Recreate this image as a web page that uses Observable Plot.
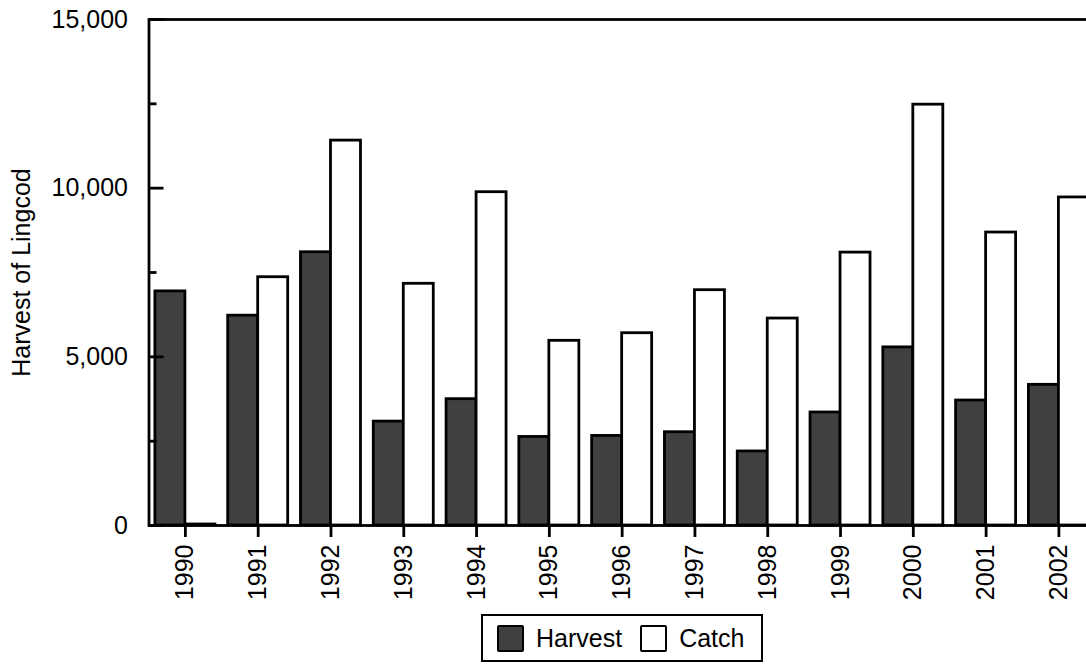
<!DOCTYPE html>
<html>
<head>
<meta charset="utf-8">
<script src="https://cdn.jsdelivr.net/npm/d3@7"></script>
<script src="https://cdn.jsdelivr.net/npm/@observablehq/plot@0.6"></script>
<style>
  html, body { margin: 0; padding: 0; background: #fff; overflow: hidden; width: 1086px; height: 666px; }
  #chart { position: relative; width: 1086px; height: 666px; overflow: hidden; }
  #chart svg { display: block; max-width: none !important; }
  #legend {
    position: absolute; left: 481px; top: 614px; width: 282px; height: 48px;
    box-sizing: border-box; border: 2.5px solid #000; background: #fff;
    display: flex; align-items: center; padding-left: 14px;
    font: 25px "Liberation Sans", Arial, sans-serif; color: #000;
  }
  .item { display: flex; align-items: center; }
  .sw { width: 23px; height: 23px; border: 2.5px solid #000; border-radius: 2px; box-sizing: content-box; margin-right: 12px; }
  .item + .item { margin-left: 18px; }
</style>
</head>
<body>
<div id="chart"></div>
<script>
const years = [1990, 1991, 1992, 1993, 1994, 1995, 1996, 1997, 1998, 1999, 2000, 2001, 2002];
const harvest = [6940, 6220, 8100, 3080, 3745, 2625, 2655, 2765, 2195, 3350, 5280, 3705, 4170];
const catchValues = [30, 7360, 11410, 7165, 9880, 5475, 5700, 6975, 6135, 8090, 12475, 8685, 9725];
const series = ["Harvest", "Catch"];
const seriesFill = ["#404040", "#ffffff"];
const yMajorTicks = [0, 5000, 10000, 15000];
const yMinorTicks = [2500, 7500, 12500];

const data = years.map((y, i) => ({year: String(y), harvest: harvest[i], catch: catchValues[i]}));

const font = '"Liberation Sans", Arial, sans-serif';

const plot = Plot.plot({
  width: 1100,
  height: 610,
  marginLeft: 148.5,
  marginRight: 5.2,
  marginTop: 19,
  marginBottom: 85,
  style: {fontFamily: font, fontSize: "25px", color: "#000", background: "#fff", overflow: "visible", maxWidth: "none"},
  x: {type: "band", domain: years.map(String), padding: 0, round: false},
  y: {domain: [0, 15000]},
  marks: [
    Plot.barY(data, {x: "year", y: "harvest", fill: seriesFill[0], stroke: "#000", strokeWidth: 2.8, insetLeft: 6.4, insetRight: 36.4}),
    Plot.barY(data, {x: "year", y: "catch", fill: seriesFill[1], stroke: "#000", strokeWidth: 2.8, insetLeft: 36.4, insetRight: 6.4}),
    Plot.frame({stroke: "#000", strokeWidth: 2.8}),
    Plot.axisY(yMajorTicks, {tickSize: 0, tickPadding: 21, fontSize: 25, tickFormat: d3.format(","), label: "Harvest of Lingcod", labelAnchor: "center", labelOffset: 137, labelArrow: "none"}),
    Plot.axisY(yMajorTicks, {tickSize: -15, text: null, label: null, strokeWidth: 2.8}),
    Plot.axisY(yMinorTicks, {tickSize: -8, text: null, label: null, strokeWidth: 2.8}),
    Plot.axisX({tickSize: 12, tickPadding: 7, tickRotate: -90, fontSize: 25, strokeWidth: 2.8, label: null})
  ]
});

const chart = document.getElementById("chart");
chart.appendChild(plot);

const legend = document.createElement("div");
legend.id = "legend";
series.forEach((s, i) => {
  const item = document.createElement("div");
  item.className = "item";
  const sw = document.createElement("div");
  sw.className = "sw";
  sw.style.background = seriesFill[i];
  const t = document.createElement("span");
  t.textContent = s;
  item.appendChild(sw);
  item.appendChild(t);
  legend.appendChild(item);
});
chart.appendChild(legend);
</script>
</body>
</html>
